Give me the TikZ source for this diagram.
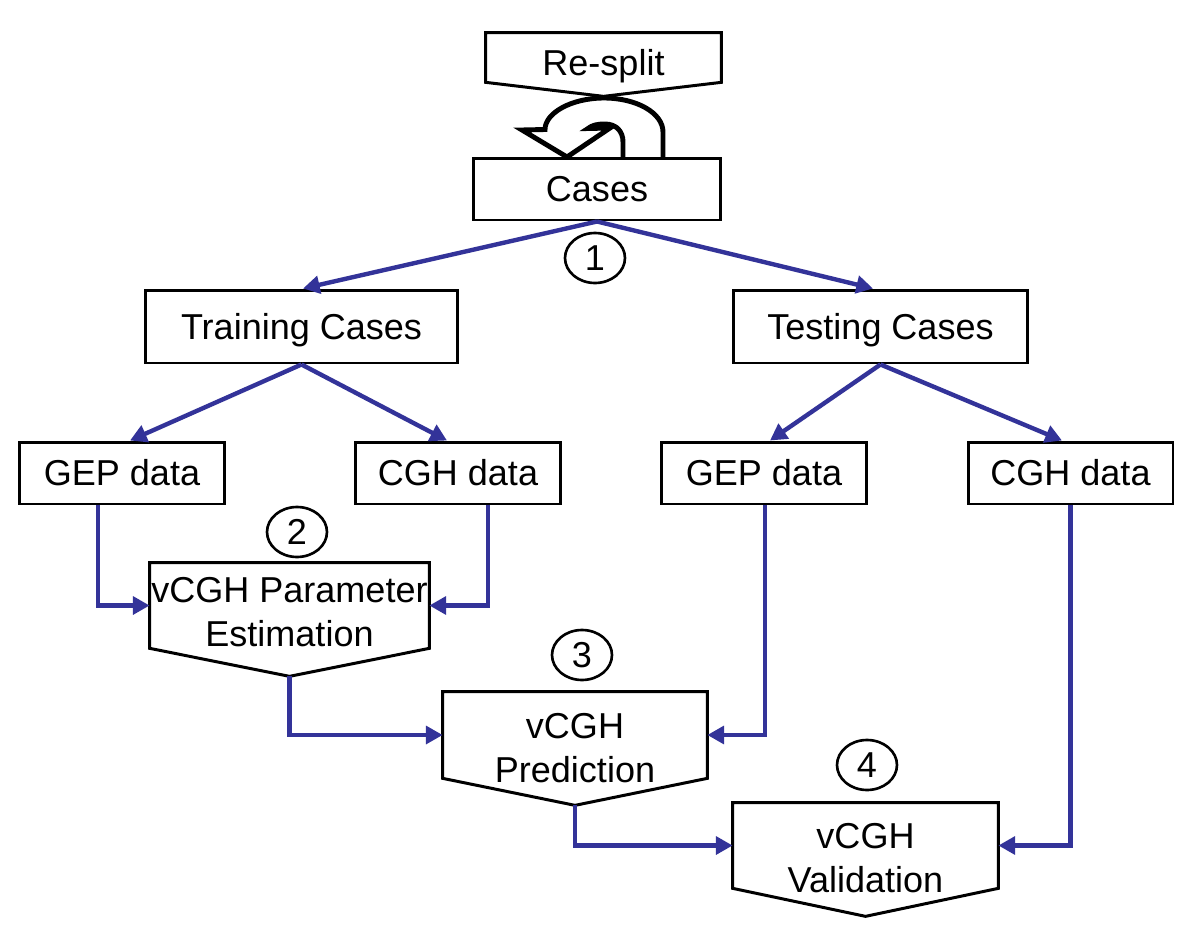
\documentclass[tikz,border=0pt]{standalone}
\usepackage{fontspec}
\setmainfont{Liberation Sans}
\usetikzlibrary{arrows.meta,calc,shapes.geometric}
\definecolor{flowblue}{RGB}{51,51,153}
\begin{document}
\begin{tikzpicture}[x=0.02cm,y=-0.02cm,
  font=\fontsize{20.5}{25}\selectfont,
  box/.style={draw=black,line width=1.7pt,rectangle,inner sep=0pt,text height=14.7pt,text depth=0pt,minimum height=1.24cm},
  pentframe/.style={draw=none,rectangle,inner sep=0pt},
  pentline/.style={draw=black,line width=1.7pt,line join=miter},
  pentlabel/.style={inner sep=0pt,align=center},
  num/.style={draw=black,line width=1.5pt,ellipse,inner sep=0pt,minimum width=1.2cm,minimum height=1.0cm,text height=14.7pt,text depth=0pt},
  flow/.style={draw=flowblue,line width=2.5pt,-{Triangle[length=9.5pt,width=10pt]}},
  uturn/.style={draw=black,line width=2.8pt,line join=miter}
]
\useasboundingbox[fill=white] (0,0) rectangle (1200,950);

% Re-split pentagon
\node[pentframe,minimum width=4.7cm,minimum height=0.98cm] (resplit) at (603.5,57.5) {};
\coordinate (resplit-tip) at ($(resplit.south)+(0,14)$);
\draw[pentline] (resplit.north west) -- (resplit.north east) -- (resplit.south east) -- (resplit-tip) -- (resplit.south west) -- cycle;
\node[pentlabel,text height=14.7pt,text depth=0pt] (resplit-t) at (603.5,62.5) {Re-split};

% boxes
\node[box,minimum width=4.96cm] (cases) at (597,189) {Cases};
\node[box,minimum width=6.26cm,minimum height=1.46cm] (train) at (301.5,326.5) {Training Cases};
\node[box,minimum width=5.9cm,minimum height=1.46cm] (test) at (880.5,326.5) {Testing Cases};
\node[box,minimum width=4.12cm] (gepL) at (122,473) {GEP data};
\node[box,minimum width=4.12cm] (cghL) at (458,473) {CGH data};
\node[box,minimum width=4.12cm] (gepR) at (764,473) {GEP data};
\node[box,minimum width=4.1cm] (cghR) at (1070.5,473) {CGH data};

% U-turn arrow
\draw[uturn] (663,158) -- (663,132) .. controls (663,113) and (636.6,98) .. (604,98)
  .. controls (571.4,98) and (545,113) .. (545,129.5) -- (522,130) -- (567,157) -- (610,128)
  -- (588,128.5) .. controls (592,125) and (598,124) .. (605,124)
  .. controls (616,124) and (623,131) .. (623,142) -- (623,158);

% vCGH Parameter Estimation
\node[pentframe,minimum width=5.58cm,minimum height=1.7cm] (pe) at (289.5,605.5) {};
\coordinate (pe-tip) at ($(pe.south)+(0,28)$);
\draw[pentline] (pe.north west) -- (pe.north east) -- (pe.south east) -- (pe-tip) -- (pe.south west) -- cycle;
\node[pentlabel,anchor=north] (pe-t) at (289.5,577) {vCGH Parameter\\Estimation};

% vCGH Prediction
\node[pentframe,minimum width=5.28cm,minimum height=1.72cm] (pred) at (575,735) {};
\coordinate (pred-tip) at ($(pred.south)+(0,27)$);
\draw[pentline] (pred.north west) -- (pred.north east) -- (pred.south east) -- (pred-tip) -- (pred.south west) -- cycle;
\node[pentlabel,anchor=north] (pred-t) at (575,713) {vCGH\\Prediction};

% vCGH Validation
\node[pentframe,minimum width=5.3cm,minimum height=1.7cm] (val) at (865.5,845.5) {};
\coordinate (val-tip) at ($(val.south)+(0,28)$);
\draw[pentline] (val.north west) -- (val.north east) -- (val.south east) -- (val-tip) -- (val.south west) -- cycle;
\node[pentlabel,anchor=north] (val-t) at (865.5,823) {vCGH\\Validation};

% connectors
\draw[flow] (cases.south) -- ($(train.north)+(1.5,0)$);
\draw[flow] (cases.south) -- ($(test.north)+(-7.5,0)$);
\draw[flow] (train.south) -- ($(gepL.north)+(8,0)$);
\draw[flow] (train.south) -- ($(cghL.north)+(-11,0)$);
\draw[flow] (test.south) -- ($(gepR.north)+(6,0)$);
\draw[flow] (test.south) -- ($(cghR.north)+(-8.5,0)$);
\draw[flow] ($(gepL.south)+(-24,0)$) |- (pe.west);
\draw[flow] ($(cghL.south)+(30,0)$) |- (pe.east);
\draw[flow] (pe-tip) |- (pred.west);
\draw[flow] ($(gepR.south)+(1,0)$) |- (pred.east);
\draw[flow] (pred-tip) |- (val.west);
\draw[flow] (cghR.south) |- (val.east);

% step numbers
\node[num] (n1) at (595,258) {1};
\node[num] (n2) at (297,532) {2};
\node[num] (n3) at (582,655) {3};
\node[num] (n4) at (867,765) {4};
\end{tikzpicture}
\end{document}
